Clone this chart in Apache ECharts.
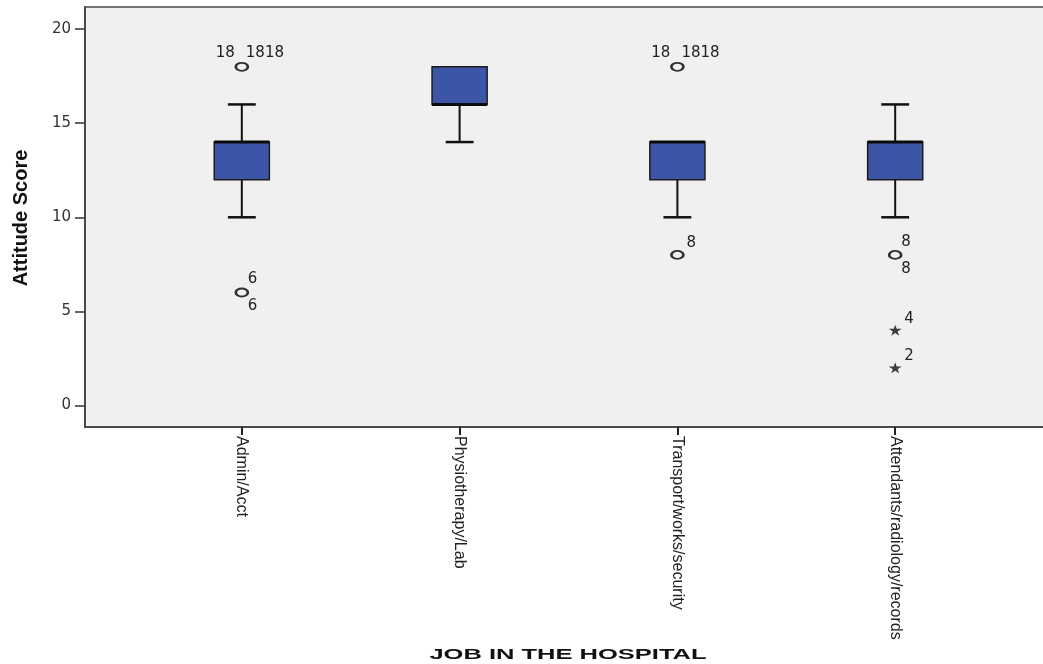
<!DOCTYPE html>
<html>
<head>
<meta charset="utf-8">
<script src="https://cdn.jsdelivr.net/npm/echarts@6/dist/echarts.min.js"></script>
<style>
  html, body { margin: 0; padding: 0; background: #ffffff; }
  #chart { width: 1043px; height: 664px; }
</style>
</head>
<body>
<div id="chart"></div>
<script>
// Job groups along the x axis
const categories = ['Admin/Acct', 'Physiotherapy/Lab', 'Transport/works/security', 'Attendants/radiology/records'];

// Five-number summaries of the attitude score per group
const whiskerLow  = [10, 14, 10, 10];
const boxLow      = [12, 16, 12, 12];
const medians     = [14, 16, 14, 14];
const boxHigh     = [14, 18, 14, 14];
const whiskerHigh = [16, 18, 14, 16];

// Outliers (drawn as circles): group index, score, case ids
const outlierGroup = [0, 0, 2, 2, 3];
const outlierScore = [18, 6, 18, 8, 8];
const outlierCases = [['18', '1818'], ['6', '6'], ['18', '1818'], ['8'], ['8', '8']];

// Extreme values (drawn as stars): group index, score, case ids
const extremeGroup = [3, 3];
const extremeScore = [4, 2];
const extremeCases = [['4'], ['2']];

const yTicks = [0, 5, 10, 15, 20];

const STAR = 'path://M50,0 L61,35 L98,35 L68,57 L79,91 L50,70 L21,91 L32,57 L2,35 L39,35 Z';

// Case-id labels next to each flagged point
function caseLabelData() {
  const rows = [];
  const add = (g, v, ids) => {
    const above = v > whiskerHigh[g];
    if (ids.length === 1) {
      rows.push([g + 1, v, ids[0], 'single']);
    } else if (above) {
      rows.push([g + 1, v, ids[0], 'leftTop']);
      rows.push([g + 1, v, ids[1], 'rightTop']);
    } else {
      rows.push([g + 1, v, ids[0], 'upper']);
      rows.push([g + 1, v, ids[1], 'lower']);
    }
  };
  outlierScore.forEach((v, i) => add(outlierGroup[i], v, outlierCases[i]));
  extremeScore.forEach((v, i) => add(extremeGroup[i], v, extremeCases[i]));
  return rows;
}

const chart = echarts.init(document.getElementById('chart'), null, { renderer: 'canvas' });

const option = {
  animation: false,
  backgroundColor: '#ffffff',
  grid: {
    left: 85, right: -9, top: 7, bottom: 237,
    outerBoundsMode: 'none',
    containLabel: false,
    show: true,
    backgroundColor: '#f0f0f0',
    borderColor: '#4a4a4a',
    borderWidth: 1.5
  },
  xAxis: {
    type: 'value',
    min: 0.28,
    max: 4.72,
    splitLine: { show: false },
    axisLine: { show: true, onZero: false, lineStyle: { color: '#4a4a4a', width: 2 } },
    axisTick: {
      show: true, length: 8, customValues: [1, 2, 3, 4],
      lineStyle: { color: '#222', width: 2 }
    },
    axisLabel: {
      customValues: [1, 2, 3, 4],
      formatter: v => categories[Math.round(v) - 1],
      rotate: -90,
      margin: 9,
      color: '#222',
      fontFamily: '"Liberation Sans", Arial, sans-serif',
      fontSize: 16
    }
  },
  yAxis: {
    type: 'value',
    min: -1.15,
    max: 21.18,
    splitLine: { show: false },
    axisLine: { show: true, onZero: false, lineStyle: { color: '#4a4a4a', width: 2 } },
    axisTick: {
      show: true, length: 10, customValues: yTicks,
      lineStyle: { color: '#333', width: 1.5 }
    },
    axisLabel: {
      customValues: yTicks,
      margin: 14,
      color: '#333',
      fontFamily: '"DejaVu Sans", sans-serif',
      fontSize: 15
    }
  },
  graphic: [
    {
      type: 'text', x: 21, y: 218, rotation: Math.PI / 2,
      style: {
        text: 'Attitude Score', fill: '#111',
        font: 'bold 20px "Liberation Sans", Arial, sans-serif',
        textAlign: 'center', textVerticalAlign: 'middle'
      }
    },
    {
      type: 'text', x: 568, y: 655, scaleX: 1.7,
      style: {
        text: 'JOB IN THE HOSPITAL', fill: '#111',
        font: 'bold 15px "Liberation Sans", Arial, sans-serif',
        textAlign: 'center', textVerticalAlign: 'middle'
      }
    }
  ],
  series: [
    {
      name: 'boxes',
      type: 'custom',
      data: categories.map((c, i) => [i + 1, whiskerLow[i], boxLow[i], medians[i], boxHigh[i], whiskerHigh[i]]),
      encode: { x: 0, y: [1, 2, 3, 4, 5] },
      renderItem(params, api) {
        const x = api.value(0);
        const pLow = api.coord([x, api.value(1)]);
        const pQ1 = api.coord([x, api.value(2)]);
        const pMed = api.coord([x, api.value(3)]);
        const pQ3 = api.coord([x, api.value(4)]);
        const pHigh = api.coord([x, api.value(5)]);
        const unit = api.size([1, 0])[0];
        const bw = unit * 0.253;
        const cw = unit * 0.128;
        const cx = pQ1[0];
        const stroke = { stroke: '#111', lineWidth: 2 };
        const children = [];
        if (pHigh[1] < pQ3[1] - 0.5) {
          children.push({ type: 'line', shape: { x1: cx, y1: pQ3[1], x2: cx, y2: pHigh[1] }, style: stroke });
          children.push({ type: 'line', shape: { x1: cx - cw / 2, y1: pHigh[1], x2: cx + cw / 2, y2: pHigh[1] }, style: { stroke: '#111', lineWidth: 2.5 } });
        }
        if (pLow[1] > pQ1[1] + 0.5) {
          children.push({ type: 'line', shape: { x1: cx, y1: pQ1[1], x2: cx, y2: pLow[1] }, style: stroke });
          children.push({ type: 'line', shape: { x1: cx - cw / 2, y1: pLow[1], x2: cx + cw / 2, y2: pLow[1] }, style: { stroke: '#111', lineWidth: 2.5 } });
        }
        children.push({
          type: 'rect',
          shape: { x: cx - bw / 2, y: pQ3[1], width: bw, height: pQ1[1] - pQ3[1] },
          style: { fill: '#3d55a6', stroke: '#1c1c1c', lineWidth: 1.5 }
        });
        children.push({
          type: 'line',
          shape: { x1: cx - bw / 2, y1: pMed[1], x2: cx + bw / 2, y2: pMed[1] },
          style: { stroke: '#0a0a0a', lineWidth: 3 }
        });
        return { type: 'group', children };
      },
      z: 2
    },
    {
      name: 'outliers',
      type: 'scatter',
      data: outlierScore.map((v, i) => [outlierGroup[i] + 1, v]),
      symbol: 'circle',
      symbolSize: [12, 8],
      itemStyle: { color: 'rgba(0,0,0,0)', borderColor: '#000000', borderWidth: 2.2 },
      z: 3
    },
    {
      name: 'extremes',
      type: 'scatter',
      data: extremeScore.map((v, i) => [extremeGroup[i] + 1, v]),
      symbol: STAR,
      symbolSize: [13, 11],
      itemStyle: { color: '#111' },
      z: 3
    },
    {
      name: 'case ids',
      type: 'custom',
      data: caseLabelData(),
      encode: { x: 0, y: 1 },
      renderItem(params, api) {
        const p = api.coord([api.value(0), api.value(1)]);
        const text = api.value(2);
        const slot = api.value(3);
        let dx = 9, dy = -11.5, align = 'left';
        if (slot === 'leftTop') { dx = -7; dy = -14; align = 'right'; }
        else if (slot === 'rightTop') { dx = 4; dy = -14; align = 'left'; }
        else if (slot === 'upper') { dx = 6; dy = -13; }
        else if (slot === 'lower') { dx = 6; dy = 14; }
        return {
          type: 'text',
          x: p[0] + dx, y: p[1] + dy,
          style: {
            text: String(text), fill: '#222',
            font: '15px "DejaVu Sans", sans-serif',
            textAlign: align, textVerticalAlign: 'middle'
          }
        };
      },
      z: 4
    }
  ]
};

chart.setOption(option);
</script>
</body>
</html>
